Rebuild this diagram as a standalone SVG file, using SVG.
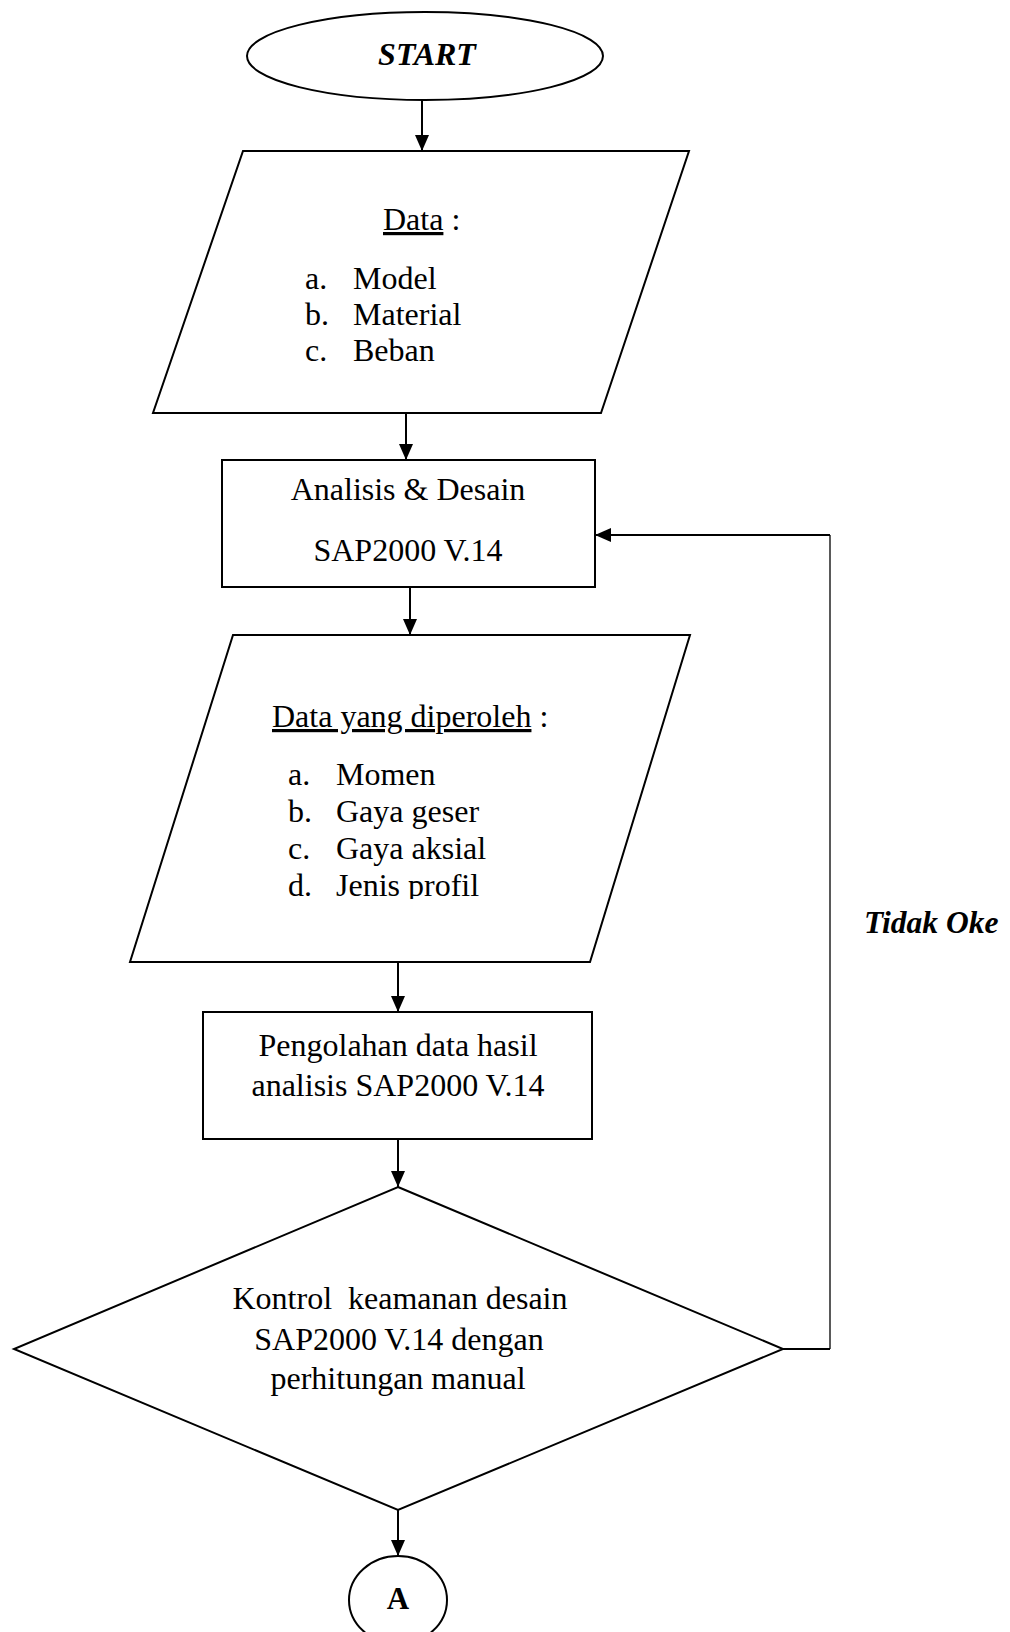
<svg xmlns="http://www.w3.org/2000/svg" width="1010" height="1632" viewBox="0 0 1010 1632">
  <style>
    .shape { fill: #ffffff; stroke: #000000; stroke-width: 2; }
    .conn { fill: none; stroke: #000000; stroke-width: 2; }
    .thin { fill: none; stroke: #000000; stroke-width: 1.3; }
    .t { font-family: "Liberation Serif", "Times New Roman", serif; font-size: 32px; fill: #000000; }
    .c { text-anchor: middle; }
    .bi { font-weight: bold; font-style: italic; }
    .b { font-weight: bold; }
  </style>
  <defs>
    <marker id="arrow" markerUnits="userSpaceOnUse" markerWidth="17" markerHeight="15" refX="16" refY="7" orient="auto">
      <path d="M0,0 L16,7 L0,14 z" fill="#000000"/>
    </marker>
    <clipPath id="clipList2">
      <rect x="130" y="740" width="560" height="159"/>
    </clipPath>
  </defs>

  <g id="start">
    <ellipse class="shape" cx="425" cy="56" rx="178" ry="44"/>
    <text class="t c bi" x="427" y="65">START</text>
  </g>

  <g id="data-input">
    <polygon class="shape" points="243,151 689,151 601,413 153,413"/>
    <text class="t" x="383" y="230"><tspan text-decoration="underline">Data</tspan> :</text>
    <text class="t" x="305" y="289">a.</text>
    <text class="t" x="353" y="289">Model</text>
    <text class="t" x="305" y="325">b.</text>
    <text class="t" x="353" y="325">Material</text>
    <text class="t" x="305" y="361">c.</text>
    <text class="t" x="353" y="361">Beban</text>
  </g>

  <g id="analisis">
    <rect class="shape" x="222" y="460" width="373" height="127"/>
    <text class="t c" x="408" y="500">Analisis &amp; Desain</text>
    <text class="t c" x="408" y="561">SAP2000 V.14</text>
  </g>

  <g id="data-output">
    <polygon class="shape" points="233,635 690,635 590,962 130,962"/>
    <text class="t" x="272" y="727"><tspan text-decoration="underline">Data yang diperoleh</tspan> :</text>
    <g clip-path="url(#clipList2)">
      <text class="t" x="288" y="785">a.</text>
      <text class="t" x="336" y="785">Momen</text>
      <text class="t" x="288" y="822">b.</text>
      <text class="t" x="336" y="822">Gaya geser</text>
      <text class="t" x="288" y="859">c.</text>
      <text class="t" x="336" y="859">Gaya aksial</text>
      <text class="t" x="288" y="896">d.</text>
      <text class="t" x="336" y="896">Jenis profil</text>
    </g>
  </g>

  <g id="pengolahan">
    <rect class="shape" x="203" y="1012" width="389" height="127"/>
    <text class="t c" x="398" y="1056">Pengolahan data hasil</text>
    <text class="t c" x="398" y="1096">analisis SAP2000 V.14</text>
  </g>

  <g id="kontrol">
    <polygon class="shape" points="398,1187 783,1349 398,1510 14,1349"/>
    <text class="t c" x="400" y="1309" xml:space="preserve">Kontrol  keamanan desain</text>
    <text class="t c" x="399" y="1350">SAP2000 V.14 dengan</text>
    <text class="t c" x="398" y="1389">perhitungan manual</text>
  </g>

  <g id="connector-a">
    <ellipse class="shape" cx="398" cy="1600" rx="49" ry="44"/>
    <text class="t c b" x="398" y="1609" style="font-size:31px">A</text>
  </g>

  <g id="label-tidak-oke">
    <text class="t bi" x="864" y="933" style="font-size:31.5px">Tidak Oke</text>
  </g>

  <g id="connectors">
    <path class="conn" d="M422,100 V151" marker-end="url(#arrow)"/>
    <path class="conn" d="M406,413 V460" marker-end="url(#arrow)"/>
    <path class="conn" d="M410,587 V635" marker-end="url(#arrow)"/>
    <path class="conn" d="M398,962 V1012" marker-end="url(#arrow)"/>
    <path class="conn" d="M398,1139 V1187" marker-end="url(#arrow)"/>
    <path class="conn" d="M398,1510 V1556" marker-end="url(#arrow)"/>
    <path class="conn" d="M783,1349 H830"/>
    <path class="thin" d="M830,1349 V535"/>
    <path class="conn" d="M830,535 H595" marker-end="url(#arrow)"/>
  </g>
</svg>
